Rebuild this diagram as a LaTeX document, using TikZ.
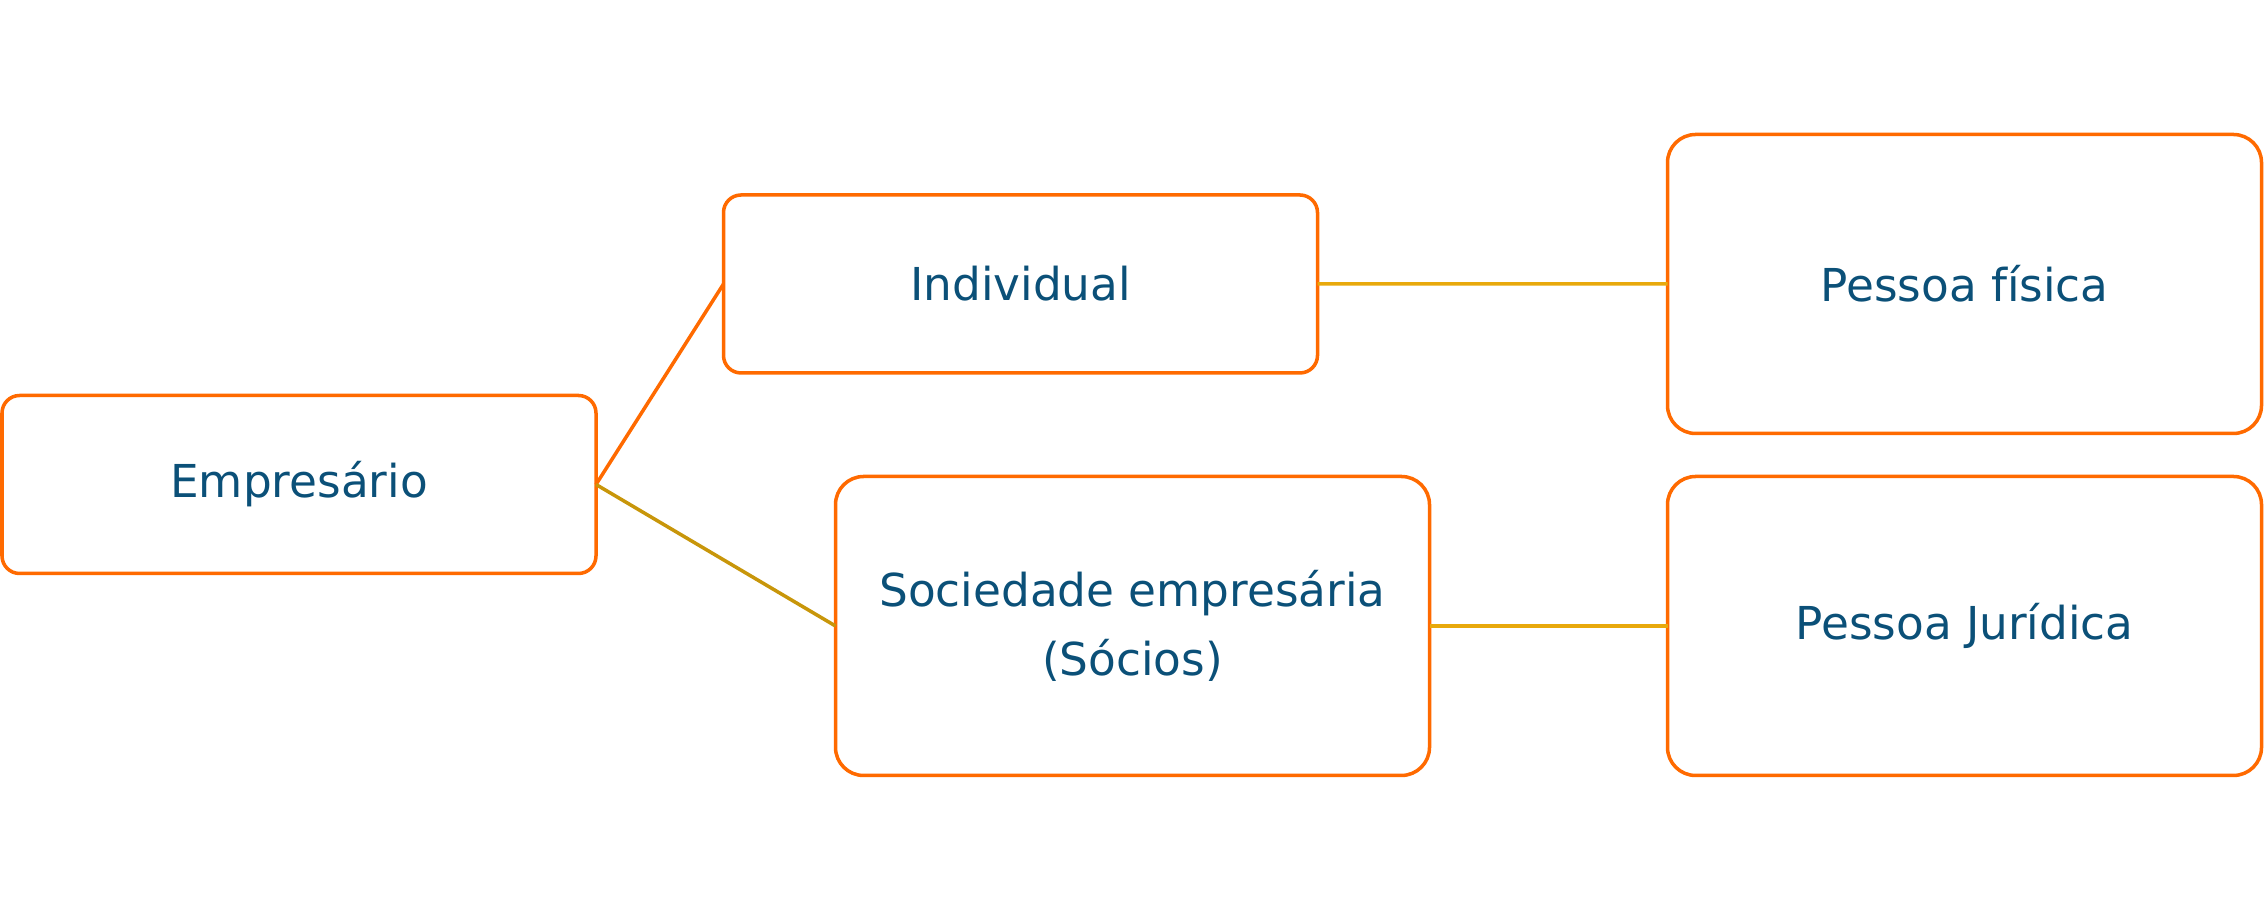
\documentclass[tikz,border=0pt]{standalone}
\usepackage{fontspec}
\setmainfont{DejaVu Sans}
\usetikzlibrary{positioning}
\definecolor{boxorange}{RGB}{255,106,0}
\definecolor{linkolive}{RGB}{200,150,10}
\definecolor{linkyellow}{RGB}{232,169,12}
\definecolor{textblue}{RGB}{11,80,120}

\begin{document}
\begin{tikzpicture}[every node/.style={font=\fontsize{12.9}{19.6}\selectfont, text=textblue},
    smallbox/.style={draw=boxorange, line width=1pt, rounded corners=5pt, fill=white, minimum width=5.94cm, minimum height=1.78cm, inner sep=0pt, outer sep=0pt, align=center},
    bigbox/.style={draw=boxorange, line width=1pt, rounded corners=8pt, fill=white, minimum width=5.94cm, minimum height=2.99cm, inner sep=0pt, outer sep=0pt, align=center},
    link/.style={line width=1pt}]
        \useasboundingbox (0,0) rectangle (22.66,9.10);
        \node[smallbox] (empresario) at (2.99,4.255) {Empresário};
        \node[smallbox] (individual) at (10.205,6.26) {Individual};
        \node[bigbox] (sociedade) at (11.325,2.84) {Sociedade empresária\\(Sócios)};
        \node[bigbox, right=2.38cm of sociedade] (juridica) {Pessoa Jurídica};
        \node[bigbox, above=0.43cm of juridica] (fisica) {Pessoa física};
        \draw[link, boxorange] (empresario.east) -- (individual.west);
        \draw[link, linkolive] (empresario.east) -- (sociedade.west);
        \draw[link, linkyellow] (individual.east) -- (fisica.west);
        \draw[link, linkyellow] (sociedade.east) -- (juridica.west);
      \end{tikzpicture}
\end{document}
